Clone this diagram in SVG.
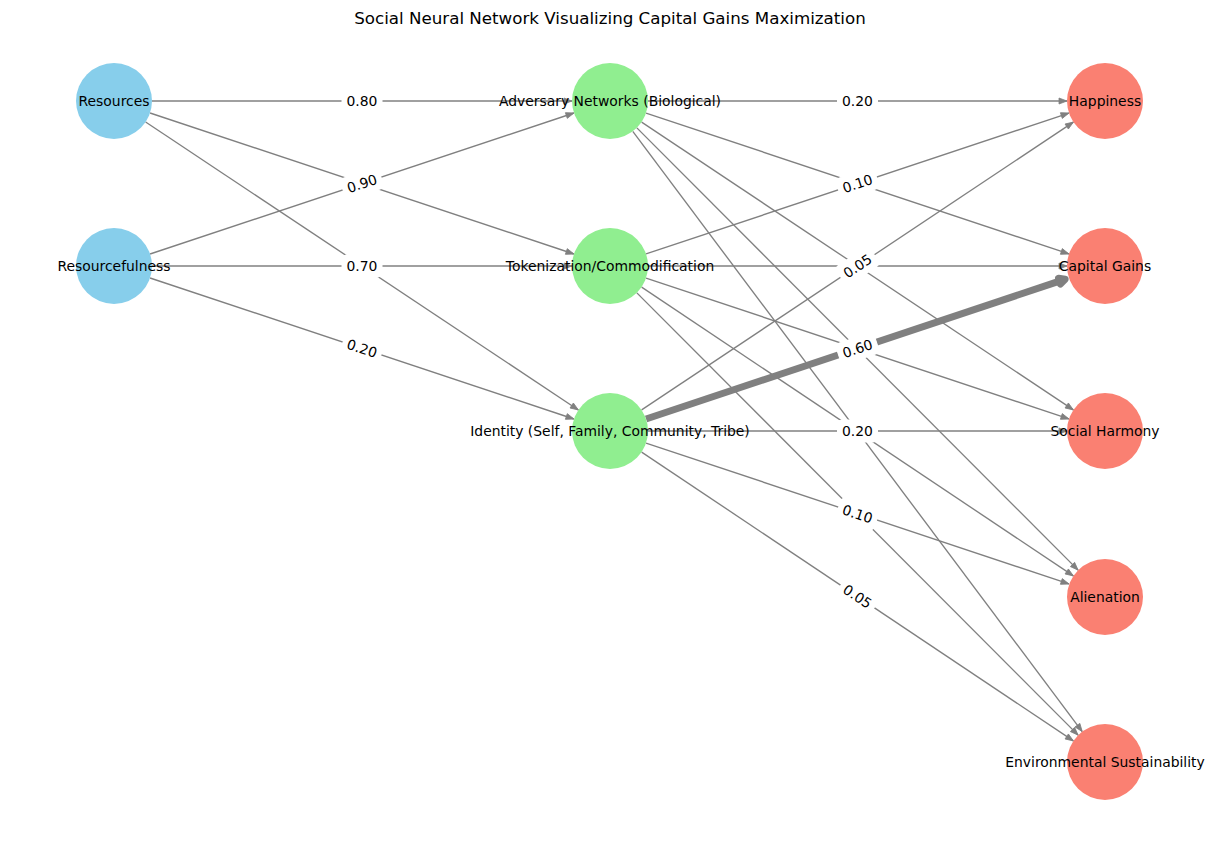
<svg xmlns="http://www.w3.org/2000/svg" width="1220" height="842" viewBox="0 0 1220 842">
<style>
  .edge { stroke: #808080; stroke-width: 1.35; fill: none; marker-end: url(#arr); }
  .thick { stroke: #808080; stroke-width: 7; fill: none; }
  .in { fill: #87CEEB; }
  .hid { fill: #90EE90; }
  .out { fill: #FA8072; }
  .nl { font-family: "DejaVu Sans", sans-serif; font-size: 13.9px; fill: #000; text-anchor: middle; }
  .el { font-family: "DejaVu Sans", sans-serif; font-size: 13.9px; fill: #000; text-anchor: middle; }
  .lb { fill: #fff; stroke: #fff; }
  .title { font-family: "DejaVu Sans", sans-serif; font-size: 16.7px; fill: #000; text-anchor: middle; }
</style>
<defs>
  <marker id="arr" markerUnits="userSpaceOnUse" markerWidth="10" markerHeight="8" refX="8" refY="3" orient="auto" overflow="visible">
    <path d="M0,0 L8,3 L0,6 z" fill="#808080" stroke="#808080" stroke-width="0.8"/>
  </marker>
</defs>
<rect width="1220" height="842" fill="#fff"/>
<text class="title" x="610" y="24">Social Neural Network Visualizing Capital Gains Maximization</text>

<g id="connectors">
  <line class="edge" x1="152" y1="101" x2="572" y2="101"/>
  <line class="edge" x1="150.06" y1="113" x2="573.94" y2="254"/>
  <line class="edge" x1="145.64" y1="122.05" x2="578.36" y2="409.95"/>
  <line class="edge" x1="150.06" y1="254" x2="573.94" y2="113"/>
  <line class="edge" x1="152" y1="266" x2="572" y2="266"/>
  <line class="edge" x1="150.06" y1="278" x2="573.94" y2="419"/>

  <line class="edge" x1="648" y1="101" x2="1067" y2="101"/>
  <line class="edge" x1="646.05" y1="113.02" x2="1068.95" y2="253.98"/>
  <line class="edge" x1="641.62" y1="122.08" x2="1073.38" y2="409.92"/>
  <line class="edge" x1="636.87" y1="127.87" x2="1078.13" y2="570.13"/>
  <line class="edge" x1="632.78" y1="131.42" x2="1082.22" y2="731.58"/>

  <line class="edge" x1="646.05" y1="253.98" x2="1068.95" y2="113.02"/>
  <line class="edge" x1="648" y1="266" x2="1067" y2="266"/>
  <line class="edge" x1="646.05" y1="278.02" x2="1068.95" y2="418.98"/>
  <line class="edge" x1="641.62" y1="287.08" x2="1073.38" y2="575.92"/>
  <line class="edge" x1="636.87" y1="292.87" x2="1078.13" y2="735.13"/>

  <line class="edge" x1="641.62" y1="409.92" x2="1073.38" y2="122.08"/>
  <line class="thick" x1="646.05" y1="418.98" x2="1059.46" y2="281.18"/>
  <polygon points="1065.15,279.28 1060.41,284.03 1058.51,278.33" fill="#808080" stroke="#808080" stroke-width="7" stroke-linejoin="round"/>
  <line class="edge" x1="648" y1="431" x2="1067" y2="431"/>
  <line class="edge" x1="646.05" y1="443.02" x2="1068.95" y2="583.98"/>
  <line class="edge" x1="641.62" y1="452.08" x2="1073.38" y2="740.92"/>
</g>

<g id="node-resources"><circle class="in" cx="114" cy="101" r="38"/><text class="nl" x="114" y="106">Resources</text></g>
<g id="node-resourcefulness"><circle class="in" cx="114" cy="266" r="38"/><text class="nl" x="114" y="271">Resourcefulness</text></g>
<g id="node-adversary"><circle class="hid" cx="610" cy="101" r="38"/><text class="nl" x="610" y="106">Adversary Networks (Biological)</text></g>
<g id="node-tokenization"><circle class="hid" cx="610" cy="266" r="38"/><text class="nl" x="610" y="271">Tokenization/Commodification</text></g>
<g id="node-identity"><circle class="hid" cx="610" cy="431" r="38"/><text class="nl" x="610" y="436">Identity (Self, Family, Community, Tribe)</text></g>
<g id="node-happiness"><circle class="out" cx="1105" cy="101" r="38"/><text class="nl" x="1105" y="106">Happiness</text></g>
<g id="node-capital-gains"><circle class="out" cx="1105" cy="266" r="38"/><text class="nl" x="1105" y="271">Capital Gains</text></g>
<g id="node-social-harmony"><circle class="out" cx="1105" cy="431" r="38"/><text class="nl" x="1105" y="436">Social Harmony</text></g>
<g id="node-alienation"><circle class="out" cx="1105" cy="597" r="38"/><text class="nl" x="1105" y="602">Alienation</text></g>
<g id="node-environmental"><circle class="out" cx="1105" cy="762" r="38"/><text class="nl" x="1105" y="767">Environmental Sustainability</text></g>

<g id="edge-labels">
  <g transform="translate(362,101)"><rect class="lb" x="-20" y="-11" width="40" height="22" rx="4"/><text class="el" y="5">0.80</text></g>
  <g transform="translate(362,183.5) rotate(-18.4)"><rect class="lb" x="-20" y="-11" width="40" height="22" rx="4"/><text class="el" y="5">0.90</text></g>
  <g transform="translate(362,266)"><rect class="lb" x="-20" y="-11" width="40" height="22" rx="4"/><text class="el" y="5">0.70</text></g>
  <g transform="translate(362,348.5) rotate(18.4)"><rect class="lb" x="-20" y="-11" width="40" height="22" rx="4"/><text class="el" y="5">0.20</text></g>
  <g transform="translate(857.5,101)"><rect class="lb" x="-20" y="-11" width="40" height="22" rx="4"/><text class="el" y="5">0.20</text></g>
  <g transform="translate(857.5,183.5) rotate(-18.4)"><rect class="lb" x="-20" y="-11" width="40" height="22" rx="4"/><text class="el" y="5">0.10</text></g>
  <g transform="translate(857.5,266) rotate(-33.7)"><rect class="lb" x="-20" y="-11" width="40" height="22" rx="4"/><text class="el" y="5">0.05</text></g>
  <g transform="translate(857.5,348.5) rotate(-18.4)"><rect class="lb" x="-20" y="-11" width="40" height="22" rx="4"/><text class="el" y="5">0.60</text></g>
  <g transform="translate(857.5,431)"><rect class="lb" x="-20" y="-11" width="40" height="22" rx="4"/><text class="el" y="5">0.20</text></g>
  <g transform="translate(857.5,514) rotate(18.4)"><rect class="lb" x="-20" y="-11" width="40" height="22" rx="4"/><text class="el" y="5">0.10</text></g>
  <g transform="translate(857.5,596.5) rotate(33.7)"><rect class="lb" x="-20" y="-11" width="40" height="22" rx="4"/><text class="el" y="5">0.05</text></g>
</g>
</svg>
